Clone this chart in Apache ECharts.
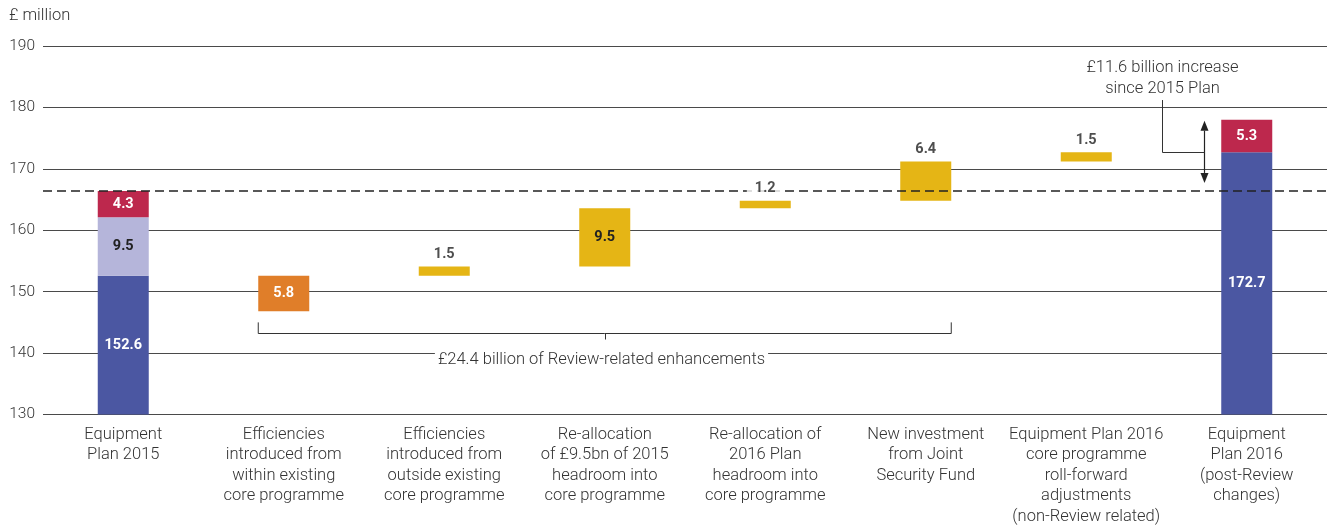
<!DOCTYPE html>
<html>
<head>
<meta charset="utf-8">
<script src="https://cdn.jsdelivr.net/npm/echarts@6/dist/echarts.min.js"></script>
<style>
  html, body { margin: 0; padding: 0; background: #fff; }
  #chart { width: 1330px; height: 527px; }
</style>
</head>
<body>
<div id="chart"></div>
<script>
// ---- data ----
const categories = [
  'Equipment\nPlan 2015',
  'Efficiencies\nintroduced from\nwithin existing\ncore programme',
  'Efficiencies\nintroduced from\noutside existing\ncore programme',
  'Re-allocation\nof £9.5bn of 2015\nheadroom into\ncore programme',
  'Re-allocation of\n2016 Plan\nheadroom into\ncore programme',
  'New investment\nfrom Joint\nSecurity Fund',
  'Equipment Plan 2016\ncore programme\nroll-forward\nadjustments\n(non-Review related)',
  'Equipment\nPlan 2016\n(post-Review\nchanges)'
];
const yTicks = [130, 140, 150, 160, 170, 180, 190];
const plan2015 = [152.6, 9.5, 4.3];          // core, headroom, other
const efficiencyWithin = 5.8;                // efficiencies within existing core programme
const increases = [1.5, 9.5, 1.2, 6.4, 1.5]; // subsequent steps
const reviewStepCount = 4;                   // steps (after efficiencies) that are Review-related
const plan2016 = [172.7, 5.3];               // core, other

// ---- styling ----
const FONT = 'Roboto, "Liberation Sans", Arial, sans-serif';
const TEXT_SIZE = 16.5;
const BAR_W = 51;
const C = {
  blue: '#4b57a2', lavender: '#b5b5da', crimson: '#bd284d',
  orange: '#e07e29', yellow: '#e5b515', text: '#333', grid: '#4a4a4a'
};
const INSIDE_STEP = 1; // the tall step carries its value inside the bar

// ---- derived series ----
const n = categories.length;
const blank = () => new Array(n).fill('-');
const sum = a => a.reduce((s, v) => s + v, 0);
const plan2015Total = sum(plan2015);
const plan2016Total = sum(plan2016);
const reviewTotal = efficiencyWithin + sum(increases.slice(0, reviewStepCount));
const growth = plan2016Total - plan2015Total;

const base = new Array(n).fill(0);
const blue = blank(), lavender = blank(), crimson = blank(), orange = blank(), yellow = blank();
blue[0] = plan2015[0]; lavender[0] = plan2015[1]; crimson[0] = plan2015[2];
blue[n - 1] = plan2016[0]; crimson[n - 1] = plan2016[1];
base[1] = plan2015[0] - efficiencyWithin; orange[1] = efficiencyWithin;

let level = plan2015[0];
const topLabels = [];
increases.forEach((v, i) => {
  const c = i + 2;
  base[c] = level;
  yellow[c] = { value: v, label: { show: i === INSIDE_STEP } };
  level += v;
  if (i !== INSIDE_STEP) topLabels.push({ value: [c, level], step: v });
});

const valueLabel = (color) => ({
  show: true, position: 'inside', color, fontFamily: FONT,
  fontWeight: 'bold', fontSize: 14.5, formatter: p => Number(p.value).toFixed(1)
});

const stackBar = (name, data, color, labelColor) => ({
  name, type: 'bar', stack: 'w', data, barWidth: BAR_W,
  itemStyle: { color }, label: valueLabel(labelColor),
  emphasis: { disabled: true }, silent: true
});

const option = {
  animation: false,
  title: {
    text: '£ million', left: 9, top: 7, padding: 0,
    textStyle: { fontFamily: FONT, fontWeight: 300, fontSize: TEXT_SIZE, color: C.text }
  },
  grid: { left: 43, right: 3, top: 46, bottom: 112, containLabel: false },
  xAxis: {
    type: 'category', data: categories,
    axisLine: { show: false }, axisTick: { show: false },
    axisLabel: {
      interval: 0, margin: 10, color: C.text, fontFamily: FONT,
      fontWeight: 300, fontSize: TEXT_SIZE, lineHeight: 20.5
    }
  },
  yAxis: {
    type: 'value', min: yTicks[0], max: yTicks[yTicks.length - 1], interval: 10,
    axisLine: { show: false }, axisTick: { show: false },
    axisLabel: { margin: 8, color: C.text, fontFamily: FONT, fontWeight: 300, fontSize: 15.5 },
    splitLine: { lineStyle: { color: C.grid, width: 1 } }
  },
  series: [
    { name: 'base', type: 'bar', stack: 'w', data: base, barWidth: BAR_W,
      itemStyle: { color: 'transparent' }, emphasis: { disabled: true }, silent: true },
    stackBar('core', blue, C.blue, '#fff'),
    stackBar('headroom', lavender, C.lavender, '#222'),
    stackBar('other', crimson, C.crimson, '#fff'),
    stackBar('efficiencies', orange, C.orange, '#fff'),
    stackBar('steps', yellow, C.yellow, '#222'),
    {
      name: 'plan2015 level', type: 'line', data: [], z: 5, silent: true,
      markLine: {
        z: 5, silent: true, symbol: 'none', label: { show: false },
        lineStyle: { color: '#222', type: [9, 5], width: 1.5 },
        data: [{ yAxis: plan2015Total }]
      }
    },
    {
      name: 'step labels', type: 'scatter', z: 10, silent: true,
      symbol: 'rect', symbolSize: 1, itemStyle: { color: 'transparent' },
      data: topLabels,
      label: {
        show: true, position: 'top', distance: 4,
        formatter: p => p.data.step.toFixed(1),
        color: '#222', fontFamily: FONT, fontWeight: 'bold', fontSize: 14.5,
        backgroundColor: '#fff', padding: [1, 8, 0, 8]
      },
      emphasis: { disabled: true }
    },
    {
      name: 'annotations', type: 'custom', z: 7, silent: true,
      data: [[0, yTicks[0]]],
      renderItem: (params, api) => {
        const cx = i => api.coord([i, yTicks[0]])[0];
        const cy = v => api.coord([0, v])[1];
        const stroke = { stroke: '#333', lineWidth: 1, fill: null };
        const textStyle = (text) => ({
          text, fill: C.text, fontFamily: FONT, fontWeight: 300, fontSize: TEXT_SIZE,
          align: 'center', lineHeight: 21
        });
        const children = [];

        // bracket spanning the Review-related steps
        const bx1 = cx(1) - BAR_W / 2, bx2 = cx(1 + reviewStepCount) + BAR_W / 2;
        const by = Math.round(cy(143.2)) + 0.5, byTop = cy(145);
        const bMid = Math.round(cx((1 + 1 + reviewStepCount) / 2)) + 0.5;
        children.push({ type: 'polyline',
          shape: { points: [[bx1, byTop], [bx1, by], [bx2, by], [bx2, byTop]] }, style: stroke });
        children.push({ type: 'line', shape: { x1: bMid, y1: by, x2: bMid, y2: by + 6 }, style: stroke });
        children.push({ type: 'text', x: bMid - 4, y: cy(140) + 7,
          style: Object.assign(textStyle('£' + reviewTotal.toFixed(1) + ' billion of Review-related enhancements'),
            { verticalAlign: 'middle', backgroundColor: '#fff', padding: [0, 3] }) });

        // double-headed arrow between the two plan totals
        const ax = Math.round(cx(n - 1) - BAR_W / 2 - 17) + 0.5;
        const aTop = cy(plan2016Total) + 1, aBot = cy(plan2015Total) - 8;
        const head = 10, hw = 4;
        children.push({ type: 'line', shape: { x1: ax, y1: aTop + head, x2: ax, y2: aBot - head },
          style: { stroke: '#222', lineWidth: 1.2 } });
        children.push({ type: 'polygon', shape: { points: [[ax, aTop], [ax - hw, aTop + head], [ax + hw, aTop + head]] },
          style: { fill: '#222' } });
        children.push({ type: 'polygon', shape: { points: [[ax, aBot], [ax - hw, aBot - head], [ax + hw, aBot - head]] },
          style: { fill: '#222' } });

        // leader from the arrow to its note
        const lx = ax - 42;
        const ly = Math.round(cy(plan2016[0])) + 0.5;
        const lTop = cy(181.2);
        children.push({ type: 'polyline', shape: { points: [[lx, lTop], [lx, ly], [ax, ly]] }, style: stroke });
        children.push({ type: 'text', x: lx, y: lTop - 1,
          style: Object.assign(textStyle('£' + growth.toFixed(1) + ' billion increase\nsince 2015 Plan'),
            { verticalAlign: 'bottom' }) });

        return { type: 'group', children };
      }
    }
  ]
};

const chart = echarts.init(document.getElementById('chart'), null, { renderer: 'canvas' });
chart.setOption(option);
</script>
</body>
</html>
